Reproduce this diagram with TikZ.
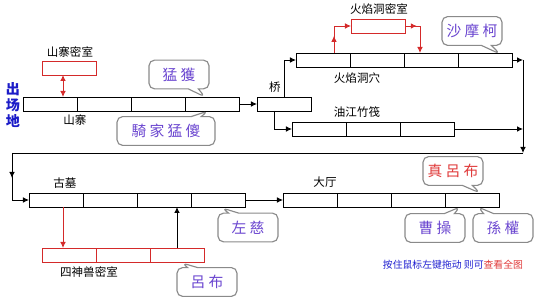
\documentclass[tikz,border=0pt]{standalone}
\usepackage{fontspec}
\setmainfont{Noto Sans CJK SC}
\newfontfamily\handfont{Noto Sans CJK TC}
\usetikzlibrary{arrows.meta,calc,positioning,shapes.callouts,decorations.markings}
\definecolor{roomRed}    {HTML}{D42A2A}
\definecolor{talkPurple} {HTML}{6A45D0}
\definecolor{talkRed}    {HTML}{E03A3A}
\definecolor{bubbleGray} {HTML}{8A8A8A}
\definecolor{startBlue}  {HTML}{1C1CC8}
\definecolor{noteBlue}   {HTML}{2020D0}
\tikzset{
  font=\fontsize{8.2}{10}\selectfont,
  line/.style={draw=black,line width=0.6pt},
  arrow/.style={-{Latex[length=1.5mm,width=1.4mm]},draw=black,line width=0.6pt},
  redarrow/.style={-{Latex[length=1.5mm,width=1.4mm]},draw=roomRed,line width=0.6pt},
  midarrow/.style={postaction={decorate},decoration={markings,
    mark=at position #1 with {\arrow{Latex[length=1.5mm,width=1.4mm]}}}},
  cell/.style={rectangle,draw=black,line width=0.6pt,fill=white,
    minimum width=1.35cm,minimum height=0.35cm,inner sep=0pt,outer sep=0pt},
  redcell/.style={draw=roomRed},
  placename/.style={inner sep=1pt,font=\fontsize{8.2}{10}\selectfont},
  bubble/.style={rectangle callout,rounded corners=4pt,draw=bubbleGray,line width=0.8pt,
    fill=white,minimum width=1.5cm,minimum height=0.72cm,inner sep=1pt,
    font=\handfont\fontsize{10.5}{12}\selectfont,text=talkPurple},
}
% one row of rooms: name, left x, middle y, count, extra style
\newcommand{\cellrow}[5]{%
  \foreach \i in {1,...,#4}
    \node[cell,#5] (#1-\i) at ({#2+27+54*(\i-1)},#3) {};}

\begin{document}
\begin{tikzpicture}[x=0.025cm,y=-0.025cm]
\useasboundingbox (0,0) rectangle (535,300);

\node[text=startBlue,align=center,font=\bfseries\fontsize{10}{11.3}\selectfont] (start) at (13,105) {出\\场\\地};

% rooms
\cellrow{sz}{23}{104}{4}{}
\cellrow{szmi}{42}{68}{1}{redcell}
\cellrow{qiao}{257}{104}{1}{}
\cellrow{hy}{296}{60}{4}{}
\cellrow{hymi}{351}{26}{1}{redcell}
\cellrow{yj}{292}{129}{3}{}
\cellrow{gm}{29}{200}{4}{}
\cellrow{dt}{283}{200}{4}{}
\cellrow{ss}{42}{255}{3}{redcell}

\node[placename] (szmiName) at (70,52)  {山寨密室};
\node[placename] (szName)   at (75,120) {山寨};
\node[placename] (qiaoName) at (275,87) {桥};
\node[placename] (hymiName) at (379,9)  {火焰洞密室};
\node[placename] (hyName)   at (357,78) {火焰洞穴};
\node[placename] (yjName)   at (357,112){油江竹筏};
\node[placename] (gmName)   at (65,183) {古墓};
\node[placename] (ssName)   at (89,272) {四神兽密室};
\node[placename] (dtName)   at (325,182){大厅};

\coordinate (rgt)  at (523,60);
\coordinate (rbot) at (523,153);
\coordinate (lbot) at (12,153);

% connectors
\draw[redarrow,{Latex[length=1.5mm,width=1.4mm]}-{Latex[length=1.5mm,width=1.4mm]}]
  ([xshift=-0.15cm]szmi-1.south) -- ([xshift=-0.15cm]szmi-1.south |- sz-1.north);
\draw[arrow] (sz-4.east) -- (qiao-1.west);
\draw[arrow] (qiao-1.north) |- (hy-1.west);
\draw[arrow] ([xshift=-0.25cm]qiao-1.south) |- (yj-1.west);
\draw[redarrow,midarrow=0.39] ([xshift=0.275cm]hy-1.north) |- (hymi-1.west);
\draw[redarrow,midarrow=0.28] (hymi-1.east) -| ([xshift=-0.275cm]hy-3.north);
\draw[arrow] (hy-4.east) -- (rgt);
\draw[arrow] (yj-3.east) -- (yj-3.east -| rgt);
\draw[arrow] (rgt) -- (rbot);
\draw[line] (rbot) -- (lbot);
\draw[arrow,midarrow=0.39] (lbot) |- (gm-1.west);
\draw[arrow] (gm-4.east) -- (dt-1.west);
\draw[redarrow] ([xshift=0.175cm]gm-1.south) -- ([xshift=0.175cm]gm-1.south |- ss-1.north);
\draw[arrow] (ss-3.north) -- (ss-3.north |- gm-3.south);

% speech bubbles
\node[bubble,callout absolute pointer={(205,97)}] (menghuo) at (179,74.5) {猛 獲};
\node[bubble,minimum width=2.45cm,callout absolute pointer={(208,111)}] (qixiang) at (166,131) {騎 家 猛 傻};
\node[bubble,callout absolute pointer={(500,54)}] (shamoke) at (472,31) {沙 摩 柯};
\node[bubble,callout absolute pointer={(222,208)}] (zuoci) at (248,227.5) {左 慈};
\node[bubble,callout absolute pointer={(182,263)}] (lvbu) at (207,282) {呂 布};
\node[bubble,text=talkRed,callout absolute pointer={(480,193)}] (truelvbu) at (453,171) {真 呂 布};
\node[bubble,callout absolute pointer={(460,207)}] (caocao) at (435,228) {曹 操};
\node[bubble,callout absolute pointer={(478,207)}] (sunquan) at (503,228) {孫 權};

\node[anchor=west,text=noteBlue,font=\fontsize{7}{8}\selectfont] (note) at (378,265)
  {按住鼠标左键拖动 则可\textcolor{talkRed}{查看全图}};

\end{tikzpicture}
\end{document}
